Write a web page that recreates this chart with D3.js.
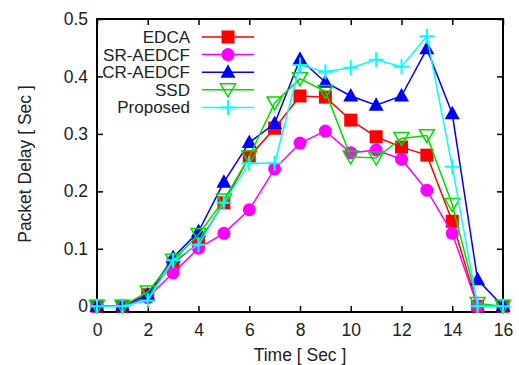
<!DOCTYPE html>
<html><head><meta charset="utf-8">
<script src="https://cdn.jsdelivr.net/npm/d3@7"></script>
<style>body{margin:0;background:#fff}svg{display:block}text{font-family:"Liberation Sans",Arial,sans-serif;fill:#222}</style>
</head><body><svg id="c" width="519" height="365"></svg>
<script>
const times = [0,1,2,3,4,5,6,7,8,9,10,11,12,13,14,15,16];
const edca     = [0,0,0.02,0.075,0.11,0.18,0.26,0.31,0.366,0.364,0.324,0.295,0.277,0.263,0.148,0,0];
const srAedcf  = [0,0,0.015,0.058,0.101,0.127,0.168,0.239,0.284,0.305,0.267,0.272,0.256,0.202,0.127,0,0];
const crAedcf  = [0,0,0.02,0.085,0.13,0.216,0.285,0.318,0.43,0.39,0.366,0.35,0.366,0.448,0.335,0.046,0];
const ssd      = [0,0,0.025,0.08,0.125,0.185,0.26,0.354,0.396,0.374,0.26,0.258,0.292,0.297,0.177,0.005,0];
const proposed = [0,0,0.01,0.08,0.107,0.18,0.249,0.249,0.42,0.408,0.415,0.429,0.417,0.47,0.243,0,0];
const seriesNames = ["EDCA","SR-AEDCF","CR-AEDCF","SSD","Proposed"];
const xTicks = [0,2,4,6,8,10,12,14,16];
const yTicks = [0,0.1,0.2,0.3,0.4,0.5];
const yTickLabels = ["0","0.1","0.2","0.3","0.4","0.5"];

const svg = d3.select("#c");
const L=97, R=503, T=19, B=312;
const FS = 17.5;
const x = d3.scaleLinear().domain([0,16]).range([L,R]);
const y = d3.scaleLinear().domain([-0.01,0.5]).range([B,T]);

const series = [
  {name:seriesNames[0], vals:edca, color:"#ff0000", sym:"square"},
  {name:seriesNames[1], vals:srAedcf, color:"#ff00ff", sym:"circle"},
  {name:seriesNames[2], vals:crAedcf, color:"#0000ff", sym:"tri"},
  {name:seriesNames[3], vals:ssd, color:"#00dd00", sym:"itri"},
  {name:seriesNames[4], vals:proposed, color:"#00ffff", sym:"plus"}
];

function marker(g, sym, color, cx, cy){
  if(sym==="square") g.append("rect").attr("x",cx-6.5).attr("y",cy-6.5).attr("width",13).attr("height",13).attr("fill",color);
  else if(sym==="circle") g.append("circle").attr("cx",cx).attr("cy",cy).attr("r",6.5).attr("fill",color);
  else if(sym==="tri") g.append("path").attr("d",`M${cx},${cy-8}L${cx+7.5},${cy+5.5}L${cx-7.5},${cy+5.5}Z`).attr("fill",color);
  else if(sym==="itri") g.append("path").attr("d",`M${cx},${cy+7}L${cx+7.5},${cy-6}L${cx-7.5},${cy-6}Z`).attr("fill","none").attr("stroke",color).attr("stroke-width",1.5);
  else if(sym==="plus") g.append("path").attr("d",`M${cx-7.5},${cy}H${cx+7.5}M${cx},${cy-7.5}V${cy+7.5}`).attr("stroke",color).attr("stroke-width",2);
}

const gx = svg.append("g").attr("transform",`translate(0,${B})`)
  .call(d3.axisBottom(x).tickValues(xTicks).tickSize(-6).tickPadding(12).tickFormat(d3.format("d")));
const gxt = svg.append("g").attr("transform",`translate(0,${T})`)
  .call(d3.axisTop(x).tickValues(xTicks).tickSize(-6).tickFormat(""));
const gy = svg.append("g").attr("transform",`translate(${L},0)`)
  .call(d3.axisLeft(y).tickValues(yTicks).tickSize(-6).tickPadding(9).tickFormat((d,i)=>yTickLabels[i]));
const gyr = svg.append("g").attr("transform",`translate(${R},0)`)
  .call(d3.axisRight(y).tickValues(yTicks).tickSize(-6).tickFormat(""));
[gx,gxt,gy,gyr].forEach(g=>{g.select(".domain").remove(); g.selectAll("line").attr("stroke","#000").attr("stroke-width",1.5);});
[gx,gy].forEach(g=>g.selectAll("text").attr("font-size",FS).style("font-family","Liberation Sans, Arial, sans-serif").attr("fill","#222"));

svg.append("rect").attr("x",L).attr("y",T).attr("width",R-L).attr("height",B-T)
  .attr("fill","none").attr("stroke","#000").attr("stroke-width",2);

const line = d3.line().x((d,i)=>x(times[i])).y(d=>y(d));
series.forEach(s=>{
  const g = svg.append("g");
  g.append("path").attr("d",line(s.vals)).attr("fill","none").attr("stroke",s.color).attr("stroke-width",1.5);
  s.vals.forEach((v,i)=>marker(g,s.sym,s.color,x(times[i]),y(v)));
});

series.forEach((s,i)=>{
  const ly = 37 + i*17.6;
  svg.append("text").attr("x",190).attr("y",ly+6).attr("text-anchor","end").attr("font-size",17).text(s.name);
  svg.append("line").attr("x1",202).attr("x2",254).attr("y1",ly).attr("y2",ly).attr("stroke",s.color).attr("stroke-width",1.5);
  marker(svg,s.sym,s.color,228,ly);
});

svg.append("text").attr("x",300).attr("y",361).attr("text-anchor","middle").attr("font-size",FS).text("Time [ Sec ]");
svg.append("text").attr("transform","translate(31,164) rotate(-90)").attr("text-anchor","middle").attr("font-size",FS).text("Packet Delay [ Sec ]");
</script></body></html>
